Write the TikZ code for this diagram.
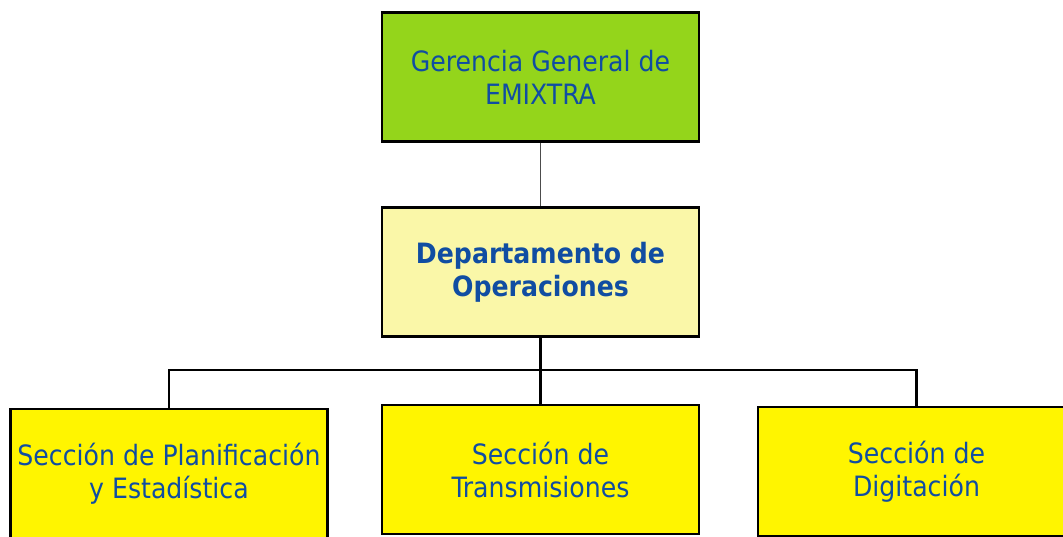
\documentclass[tikz,border=0pt]{standalone}
\usepackage{fontspec}
\setmainfont{DejaVu Sans Condensed}
\definecolor{txtblue}{RGB}{16,77,162}
\definecolor{topgreen}{RGB}{148,213,27}
\definecolor{paleyellow}{RGB}{250,247,168}
\definecolor{boxyellow}{RGB}{255,245,0}
\tikzset{
  orgbox/.style={draw=black, line width=2.5pt, minimum width=317pt, minimum height=129pt,
    inner sep=0pt, align=center, text=txtblue, font=\fontsize{28}{33}\selectfont},
  thinlink/.style={draw=black!70, line width=1pt},
  thicklink/.style={draw=black, line width=2.8pt}
}
\begin{document}
\begin{tikzpicture}[x=1pt,y=-1pt]
\useasboundingbox (0,0) rectangle (1063,536);
\clip (0,0) rectangle (1063,536);
\node[orgbox, fill=topgreen] (ger) at (540.5,77) {Gerencia General de\\EMIXTRA};
\node[orgbox, fill=paleyellow, font=\bfseries\fontsize{28}{33}\selectfont] (dep) at (540.5,272) {Departamento de\\Operaciones};
\node[orgbox, fill=boxyellow] (plan) at (169,473.5) {Sección de Planificación\\y Estadística};
\node[orgbox, fill=boxyellow] (trans) at (540.5,469.5) {Sección de\\Transmisiones};
\node[orgbox, fill=boxyellow] (dig) at (916.5,471.5) {Sección de\\Digitación};
\coordinate (bus) at (540.5,370);
\draw[thinlink] (ger.south) -- (dep.north);
\draw[thicklink] (dep.south) -- (bus);
\draw[thicklink] (trans.north) -- (bus);
\draw[thicklink, line join=miter] (plan.north) |- (bus) -| (dig.north);
\end{tikzpicture}
\end{document}
